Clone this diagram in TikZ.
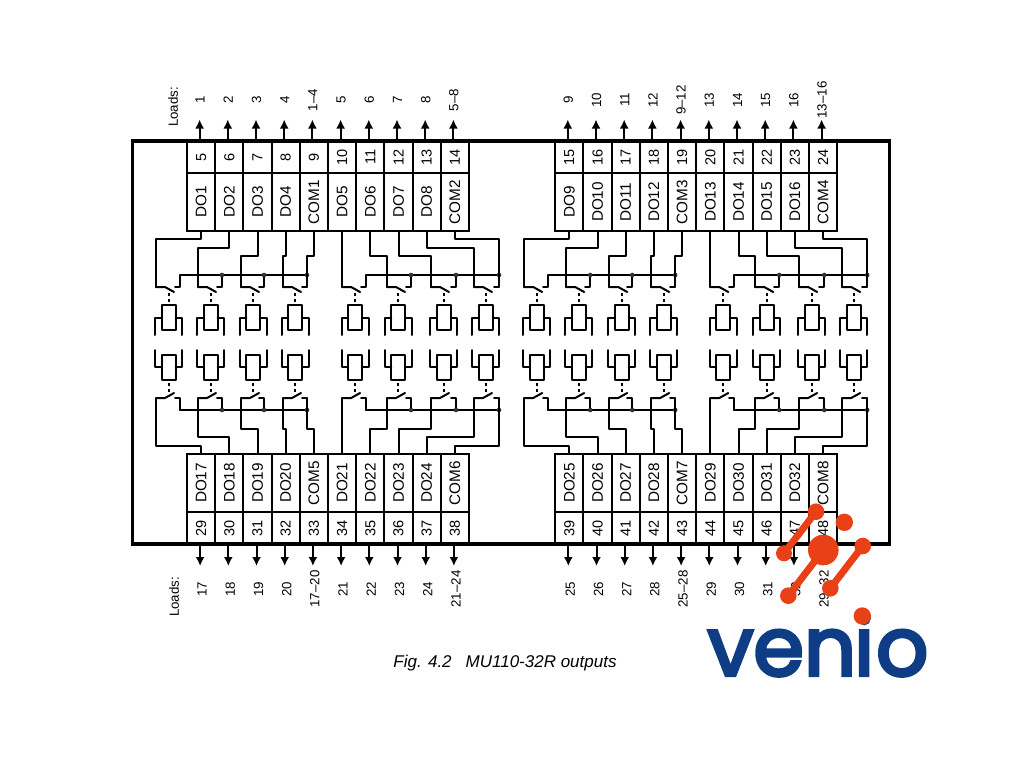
\documentclass[tikz,border=0pt]{standalone}
\usepackage{fontspec}
\setmainfont{Liberation Sans}
\newfontfamily\logofont{Poppins}[FakeBold=4]
\usetikzlibrary{arrows.meta}
\definecolor{logored}{HTML}{E84118}
\definecolor{logoblue}{HTML}{0F3D85}
\newcommand{\vtxt}[1]{\rotatebox{90}{#1}}
\tikzset{
  wire/.style={line width=2pt,line cap=round,line join=round},
  pincell/.style={draw,line width=2pt,inner sep=0pt,minimum width=28.2pt,minimum height=32pt,font=\fontsize{14.5}{16}\selectfont},
  namecell/.style={draw,line width=2pt,inner sep=0pt,minimum width=28.2pt,minimum height=58pt,font=\fontsize{15.3}{17}\selectfont},
  loadlabel/.style={inner sep=0pt,font=\fontsize{13.3}{15}\selectfont},
  loadarrow/.style={line width=2pt,-{Latex[length=9pt,width=9pt]}},
  logoline/.style={logored,line width=7pt,line cap=round}
}
\newcommand{\relays}{
  \foreach \pole/\fx/\coil in {156/180/168.7,198/222/210.7,241/264/253.3,283/307/295.3,342.1/366/355,387/411/398.3,431/456/443.7,474/499/485.7}{
    \draw[wire] (\pole,287) -- (\pole+9,287) -- (\pole+18,292);
    \draw[wire] (\fx-5,287) -- (\fx,287) -- (\fx,275);
    \draw[wire,line cap=butt,dash pattern=on 3pt off 3pt] (\coil,293) -- (\coil,305);
    \draw[wire] (\coil-7,305) rectangle (\coil+7,330);
    \draw[wire] (\coil-13.5,335) |- (\coil-7,318);
    \draw[wire] (\coil+13.5,335) |- (\coil+7,318);
  }
  \draw[wire] (180,275) -- (307,275);
  \draw[wire] (366,275) -- (499,275);
  \foreach \fx in {222,264,307,411,456,499}
    \fill[black!80] (\fx,275) circle (2.3);
}
\begin{document}
\begin{tikzpicture}[x=1pt,y=-1pt]
\useasboundingbox (0,0) rectangle (1024,768);

\draw[line width=3.4pt] (132.7,141) rectangle (889.3,544);

\foreach \x/\dtop/\ntop/\ltop/\dbot/\nbot/\lbot in {
  201.1/DO1/5/1/DO17/29/17, 229.3/DO2/6/2/DO18/30/18, 257.5/DO3/7/3/DO19/31/19,
  285.7/DO4/8/4/DO20/32/20, 313.9/COM1/9/1--4/COM5/33/17--20, 342.1/DO5/10/5/DO21/34/21,
  370.3/DO6/11/6/DO22/35/22, 398.5/DO7/12/7/DO23/36/23, 426.7/DO8/13/8/DO24/37/24,
  454.9/COM2/14/5--8/COM6/38/21--24,
  569.3/DO9/15/9/DO25/39/25, 597.5/DO10/16/10/DO26/40/26, 625.7/DO11/17/11/DO27/41/27,
  653.9/DO12/18/12/DO28/42/28, 682.1/COM3/19/9--12/COM7/43/25--28, 710.3/DO13/20/13/DO29/44/29,
  738.5/DO14/21/14/DO30/45/30, 766.7/DO15/22/15/DO31/46/31, 794.9/DO16/23/16/DO32/47/32,
  823.1/COM4/24/13--16/COM8/48/29--32}{
  \node[pincell] (pin\ntop) at (\x,157) {\vtxt{\ntop}};
  \node[namecell] (\dtop) at (\x,202) {\vtxt{\dtop}};
  \node[namecell] (\dbot) at (\x,483) {\vtxt{\dbot}};
  \node[pincell] (pin\nbot) at (\x,528) {\vtxt{\nbot}};
  \node[loadlabel] (load\ntop) at (\x-1,100) {\vtxt{\ltop}};
  \node[loadlabel] (load\nbot) at (\x+1,589) {\vtxt{\lbot}};
  \coordinate (tip\ntop) at (\x-1.5,119.5);
  \coordinate (tip\nbot) at (\x-1,566);
  \draw[loadarrow] (\x-1.5,141) -- (tip\ntop);
  \draw[loadarrow] (\x-1,544) -- (tip\nbot);
}

\node[loadlabel] (loadstop) at (173,107) {\vtxt{Loads:}};
\node[loadlabel] (loadsbot) at (174,597) {\vtxt{Loads:}};

\relays
\foreach \cell/\jog/\pole in {DO1/239/156,DO2/247.7/198,DO3/256/241,DO4/256/283,COM1/256/307,DO5/256/342.1,DO6/256/387,DO7/256/431,DO8/247.7/474,COM2/239.3/499}
  \draw[wire] (\cell.south) |- (\pole,\jog) -- (\pole,287);

\begin{scope}[shift={(0,685)},yscale=-1]
\relays
\foreach \cell/\jog/\pole in {DO17/239/156,DO18/247.7/198,DO19/256/241,DO20/256/283,COM5/256/307,DO21/256/342.1,DO22/256/387,DO23/256/431,DO24/247.7/474,COM6/239.3/499}
  \draw[wire] (\cell.north) |- (\pole,\jog) -- (\pole,287);
\end{scope}

\begin{scope}[shift={(368.2,0)}]
\relays
\foreach \cell/\jog/\pole in {DO9/239/156,DO10/247.7/198,DO11/256/241,DO12/256/283,COM3/256/307,DO13/256/342.1,DO14/256/387,DO15/256/431,DO16/247.7/474,COM4/239.3/499}
  \draw[wire] (\cell.south) |- (\pole,\jog) -- (\pole,287);
\end{scope}

\begin{scope}[shift={(368.2,685)},yscale=-1]
\relays
\foreach \cell/\jog/\pole in {DO25/239/156,DO26/247.7/198,DO27/256/241,DO28/256/283,COM7/256/307,DO29/256/342.1,DO30/256/387,DO31/256/431,DO32/247.7/474,COM8/239.3/499}
  \draw[wire] (\cell.north) |- (\pole,\jog) -- (\pole,287);
\end{scope}

\node[anchor=base,inner sep=0pt,font=\fontsize{17}{19}\selectfont\itshape] (caption) at (505,667.5) {Fig. 4.2\hspace{14pt}MU110-32R outputs};

\node[anchor=base,inner sep=0pt,text=logoblue,font=\fontsize{81.5}{82}\logofont\selectfont] (logotext) at (818,675.5) {ven\kern-2pt i\kern2pt o};
\draw[logoline] (816,511.7) -- (784,553.3);
\draw[logoline] (862.7,546) -- (830.3,588.3);
\draw[logoline] (823.3,550) -- (788.3,595.7);
\fill[logored] (816,511.7) circle (8.3);
\fill[logored] (844.3,522.3) circle (8.7);
\fill[logored] (823.3,550) circle (15.3);
\fill[logored] (784,553.3) circle (8);
\fill[logored] (862.7,546) circle (8.3);
\fill[logored] (788.3,595.7) circle (8.3);
\fill[logored] (830.3,588.3) circle (8.3);
\fill[logored] (862.3,616) circle (8.7);
\end{tikzpicture}
\end{document}
